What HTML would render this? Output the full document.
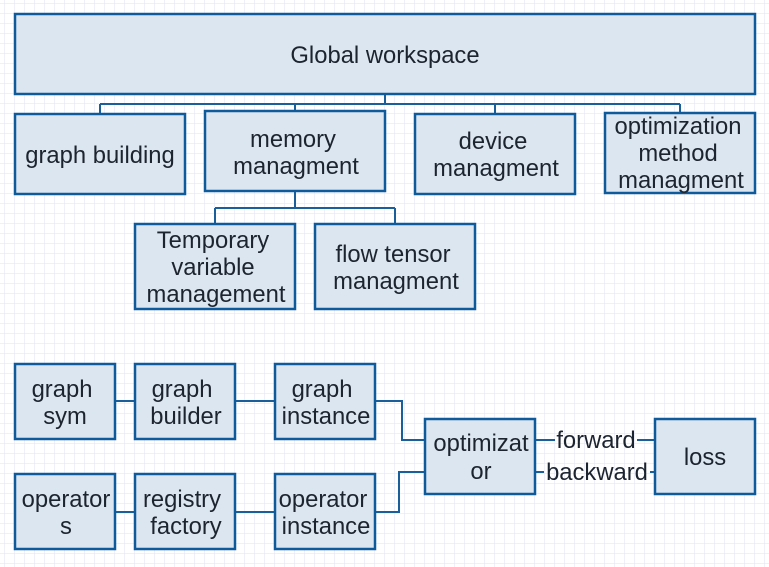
<!DOCTYPE html>
<html><head><meta charset="utf-8"><style>
html,body{margin:0;padding:0;background:#fff;}
svg{display:block;}
text{font-family:"Liberation Sans",sans-serif;font-size:23.8px;fill:#1c2430;text-anchor:middle;}
</style></head><body>
<svg width="769" height="567" xmlns="http://www.w3.org/2000/svg">
<defs>
<pattern id="g" width="10" height="10" patternUnits="userSpaceOnUse" x="5" y="4">
<path d="M10 0V10M0 10H10" stroke="#e2e2f4" stroke-width="1" fill="none"/>
</pattern>
</defs>
<rect width="769" height="567" fill="url(#g)"/>
<g fill="none" stroke="#1a5f9a" stroke-width="2">
<path d="M385 94V104M100 104H680M100 104V114M295 104V111M495 104V114M680 104V113"/>
<path d="M295 191V208M215 208H395M215 208V224M395 208V224"/>
<path d="M115 401H135M235 401H275M375 401H402V440H425"/>
<path d="M115 512H135M235 512H275M375 512H399V472H425"/>
<path d="M535 440H555M637 440H655M535 472H544M650 472H655"/>
</g>
<g fill="#dce6f0" stroke="#0e5a9a" stroke-width="2.5">
<rect x="15" y="14" width="740" height="80"/>
<rect x="15" y="114" width="170" height="80"/>
<rect x="205" y="111" width="180" height="80"/>
<rect x="415" y="114" width="160" height="80"/>
<rect x="605" y="113" width="150" height="80"/>
<rect x="135" y="224" width="160" height="85"/>
<rect x="315" y="224" width="160" height="85"/>
<rect x="15" y="364" width="100" height="75"/>
<rect x="135" y="364" width="100" height="75"/>
<rect x="275" y="364" width="100" height="75"/>
<rect x="15" y="474" width="100" height="75"/>
<rect x="135" y="474" width="100" height="75"/>
<rect x="275" y="474" width="100" height="75"/>
<rect x="425" y="419" width="110" height="75"/>
<rect x="655" y="419" width="100" height="75"/>
</g>
<text x="385" y="63">Global workspace</text>
<text x="100" y="163">graph building</text>
<text x="293" y="147">memory</text><text x="296" y="174">managment</text>
<text x="493" y="149">device</text><text x="496" y="176">managment</text>
<text x="678" y="134">optimization</text><text x="678" y="161">method</text><text x="681" y="188">managment</text>
<text x="213" y="248">Temporary</text><text x="213" y="275">variable</text><text x="216" y="302">management</text>
<text x="393" y="262">flow tensor</text><text x="396" y="289">managment</text>
<text x="62" y="397">graph</text><text x="65" y="424">sym</text>
<text x="182" y="397">graph</text><text x="186" y="424">builder</text>
<text x="322" y="397">graph</text><text x="326" y="424">instance</text>
<text x="66" y="507">operator</text><text x="66" y="534">s</text>
<text x="182" y="507">registry</text><text x="186" y="534">factory</text>
<text x="323" y="507">operator</text><text x="326" y="534">instance</text>
<text x="481" y="451">optimizat</text><text x="481" y="479">or</text>
<text x="596" y="448">forward</text>
<text x="597" y="480">backward</text>
<text x="705" y="465">loss</text>
</svg>
</body></html>
